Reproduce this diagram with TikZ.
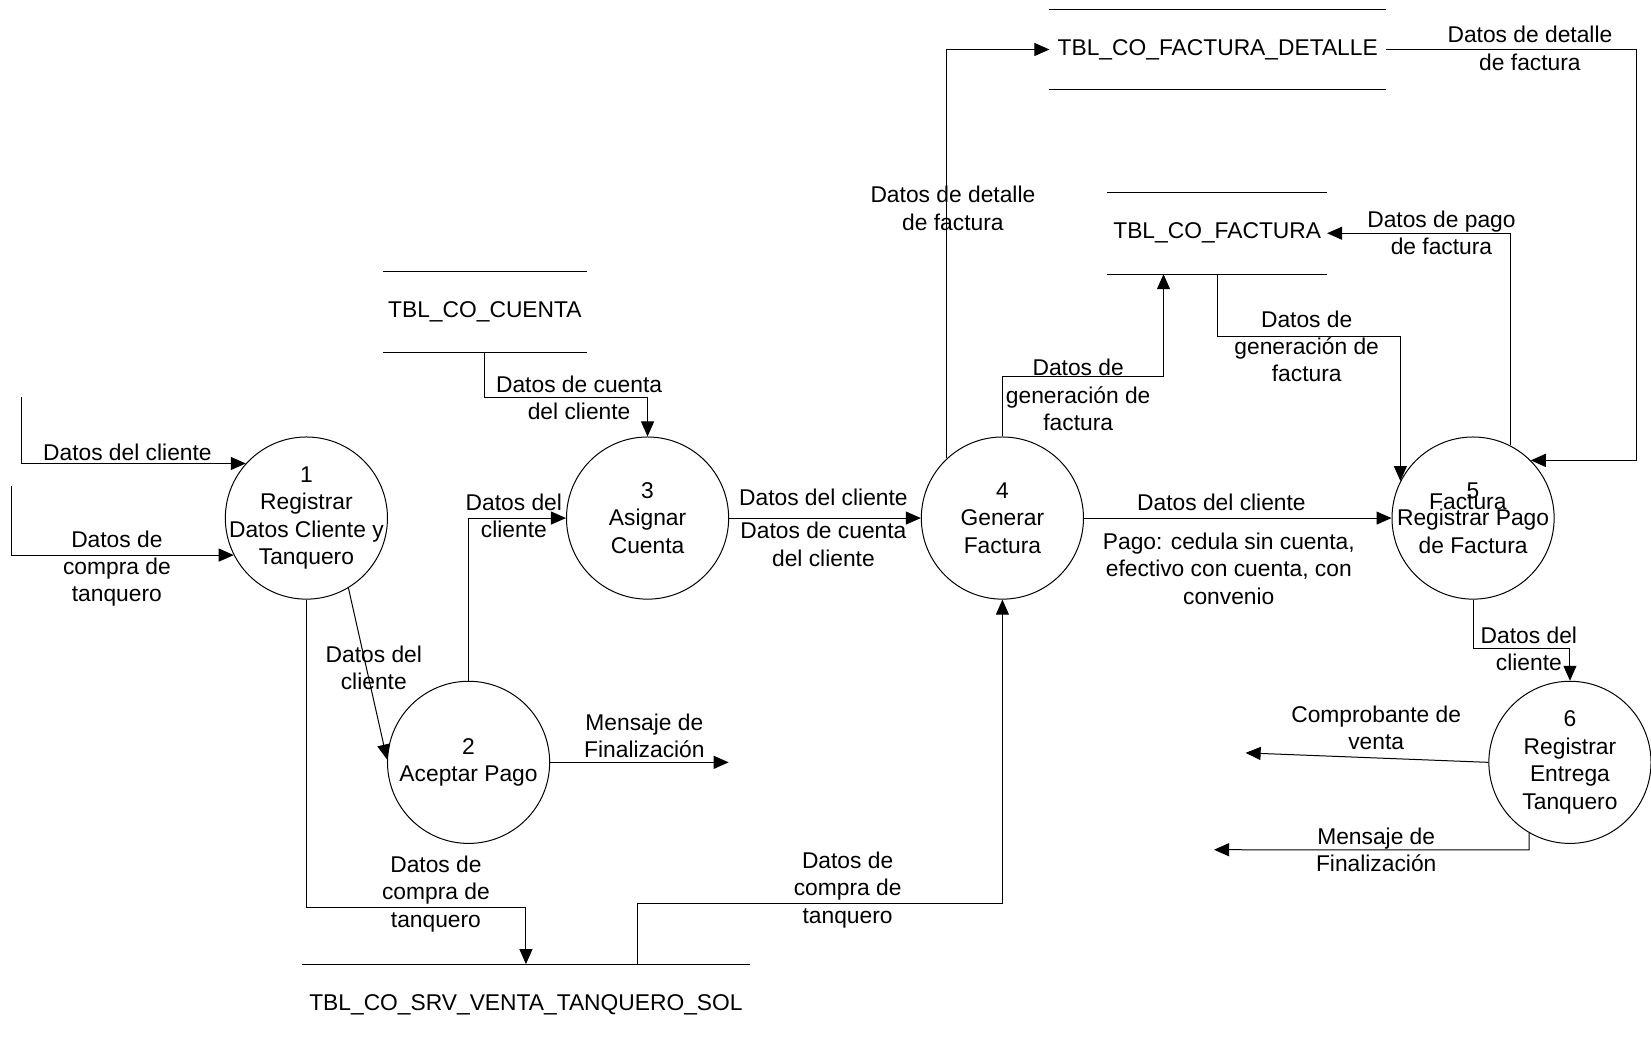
\documentclass[tikz,border=0pt]{standalone}
\usepackage{fontspec}
\setmainfont{Liberation Sans}
\usetikzlibrary{arrows.meta,calc}
\newcommand\dpx{0.5265pt}
\tikzset{
  every node/.style={font=\fontsize{11.4pt}{13.7pt}\selectfont, inner sep=0pt},
  proc/.style={circle, draw, line width=0.5pt, minimum size=154*\dpx},
  proctext/.style={align=center},
  store/.style={rectangle, draw=none, align=center},
  storeline/.style={line width=0.5pt},
  lbl/.style={align=center},
  flow/.style={line width=0.5pt, -{Triangle[length=7.5pt,width=6.5pt]}}
}
\begin{document}
\begin{tikzpicture}[x=0.5265pt, y=-0.5265pt]
\useasboundingbox (0,0) rectangle (1568,993);

% processes
\node[proc, label={[proctext]center:{1\\Registrar\\Datos Cliente y\\Tanquero}}] (p1) at (291,492) {};
\node[proc, label={[proctext]center:{2\\Aceptar Pago}}] (p2) at (445,724) {};
\node[proc, label={[proctext]center:{3\\Asignar\\Cuenta}}] (p3) at (615,492) {};
\node[proc, label={[proctext]center:{4\\Generar\\Factura}}] (p4) at (952,492) {};
\node[proc, label={[proctext]center:{5\\Registrar Pago\\de Factura}}] (p5) at (1399,492) {};
\node (p5extra) at (1394,477) {Factura};
\node[proc, label={[proctext]center:{6\\Registrar\\Entrega\\Tanquero}}] (p6) at (1491,724) {};

% data stores
\node[store, minimum width=193*\dpx, minimum height=76*\dpx] (cuenta) at (460.5,296) {TBL\_CO\_CUENTA};
\node[store, minimum width=319*\dpx, minimum height=76*\dpx] (det) at (1156.5,47) {TBL\_CO\_FACTURA\_DETALLE};
\node[store, minimum width=208*\dpx, minimum height=77*\dpx] (fac) at (1156,221.5) {TBL\_CO\_FACTURA};
\node[store, minimum width=425*\dpx, minimum height=76*\dpx] (srv) at (499.5,954) {TBL\_CO\_SRV\_VENTA\_TANQUERO\_SOL};
\foreach \s in {cuenta,det,fac}{
  \draw[storeline] (\s.north west) -- (\s.north east);
  \draw[storeline] (\s.south west) -- (\s.south east);
}
\draw[storeline] (srv.north west) -- (srv.north east);

% free ends of flows
\coordinate (a0) at (20,377);
\coordinate (b0) at (11,462);
\coordinate (f1) at (692,724);
\coordinate (q1) at (1183,715);
\coordinate (r1) at (1153,807);

% flows
\draw[flow] (a0) |- (p1.138.5);
\draw[flow] (b0) |- (p1.207.9);
\draw[flow] (p1.301.7) -- (p2.178);
\draw[flow] (p1.south) -- ++(0,292) -| (srv.north);
\draw[flow] (p2.north) |- (p3.west);
\draw[flow] (p2.east) -- (f1);
\draw[flow] (cuenta.south) -- ++(0,43) -| (p3.north);
\draw[flow] (p3.east) -- (p4.west);
\draw[flow] ($(srv.north)+(105.5,0)$) -- ++(0,-58) -| (p4.south);
\draw[flow] (p4.133.5) |- (det.west);
\draw[flow] (p4.north) -- ++(0,-57) -| ($(fac.south)+(-51,0)$);
\draw[flow] (fac.south) -- ++(0,59) -| (p5.153.8);
\draw[flow] (p5.63) |- (fac.east);
\draw[flow] (det.east) -- ++(238,0) |- (p5.45);
\draw[flow] (p4.east) -- (p5.west);
\draw[flow] (p5.south) -- ++(0,46) -| (p6.north);
\draw[flow] (p6.west) -- (q1);
\draw[flow] (p6.240.4) -- ++(0,16) -- (r1);

% flow labels
\node[lbl] (la) at (121,430) {Datos del cliente};
\node[lbl] (lb) at (111,540) {Datos de\\compra de\\tanquero};
\node[lbl] (lc) at (355,634) {Datos del\\cliente};
\node[lbl] (ld) at (414,849) {Datos de\\compra de\\tanquero};
\node[lbl] (le) at (488,490) {Datos del\\cliente};
\node[lbl] (lf) at (612,699) {Mensaje de\\Finalización};
\node[lbl] (lg) at (550,378) {Datos de cuenta\\del cliente};
\node[lbl] (lh1) at (782,472) {Datos del cliente};
\node[lbl] (lh2) at (782,517) {Datos de cuenta\\del cliente};
\node[lbl] (li) at (805,845) {Datos de\\compra de\\tanquero};
\node[lbl] (lj) at (905,198) {Datos de detalle\\de factura};
\node[lbl] (lk) at (1024,375) {Datos de\\generación de\\factura};
\node[lbl] (ll) at (1241,329) {Datos de\\generación de\\factura};
\node[lbl] (lm) at (1369,221) {Datos de pago\\de factura};
\node[lbl] (ln) at (1453,46) {Datos de detalle\\de factura};
\node[lbl] (lo1) at (1160,477) {Datos del cliente};
\node[lbl] (lo2) at (1167,540) {Pago: cedula sin cuenta,\\efectivo con cuenta, con\\convenio};
\node[lbl] (lp) at (1452,616) {Datos del\\cliente};
\node[lbl] (lq) at (1307,691) {Comprobante de\\venta};
\node[lbl] (lr) at (1307,807) {Mensaje de\\Finalización};
\end{tikzpicture}
\end{document}
